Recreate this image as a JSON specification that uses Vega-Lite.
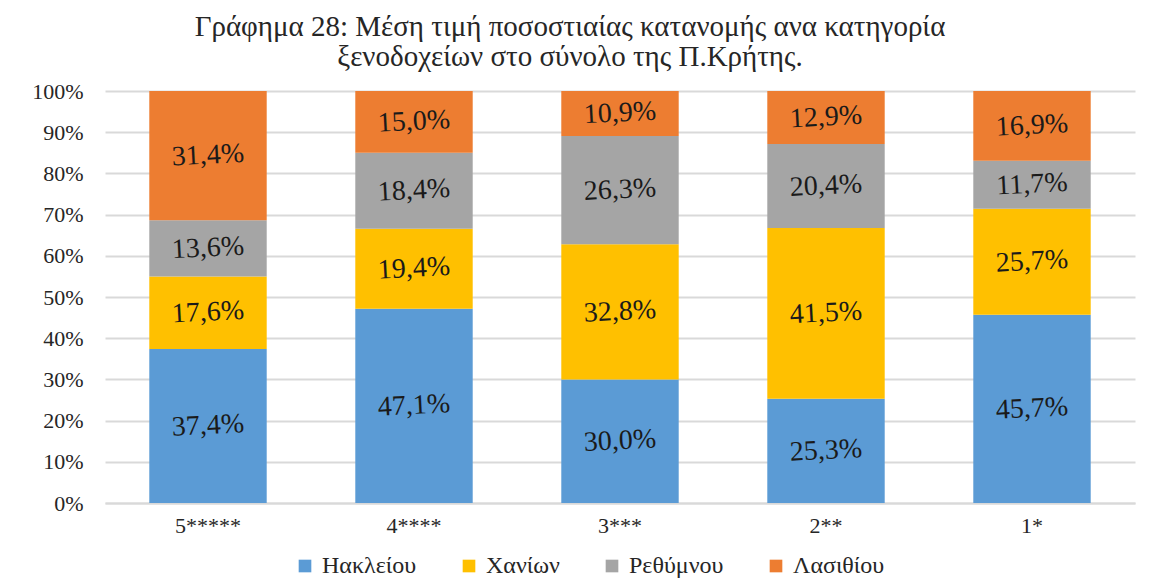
{
  "$schema": "https://vega.github.io/schema/vega-lite/v6.json",
  "width": 1030,
  "height": 412,
  "autosize": {"type": "none"},
  "padding": {"left": 105, "top": 91, "right": 24, "bottom": 85},
  "background": "white",
  "config": {"view": {"stroke": null}, "font": "Liberation Serif"},
  "title": {
    "text": ["Γράφημα 28: Μέση  τιμή ποσοστιαίας κατανομής ανα κατηγορία", "ξενοδοχείων στο σύνολο της Π.Κρήτης."],
    "font": "Liberation Serif",
    "fontSize": 29,
    "fontWeight": "normal",
    "color": "#262626",
    "lineHeight": 30,
    "anchor": "middle",
    "dx": -50,
    "offset": 8
  },
  "data": {
    "values": [
      {"cat": "5*****", "region": "Ηακλείου", "o": 1, "value": 37.4, "label": "37,4%"},
      {"cat": "5*****", "region": "Χανίων", "o": 2, "value": 17.6, "label": "17,6%"},
      {"cat": "5*****", "region": "Ρεθύμνου", "o": 3, "value": 13.6, "label": "13,6%"},
      {"cat": "5*****", "region": "Λασιθίου", "o": 4, "value": 31.4, "label": "31,4%"},
      {"cat": "4****", "region": "Ηακλείου", "o": 1, "value": 47.1, "label": "47,1%"},
      {"cat": "4****", "region": "Χανίων", "o": 2, "value": 19.4, "label": "19,4%"},
      {"cat": "4****", "region": "Ρεθύμνου", "o": 3, "value": 18.4, "label": "18,4%"},
      {"cat": "4****", "region": "Λασιθίου", "o": 4, "value": 15.0, "label": "15,0%"},
      {"cat": "3***", "region": "Ηακλείου", "o": 1, "value": 30.0, "label": "30,0%"},
      {"cat": "3***", "region": "Χανίων", "o": 2, "value": 32.8, "label": "32,8%"},
      {"cat": "3***", "region": "Ρεθύμνου", "o": 3, "value": 26.3, "label": "26,3%"},
      {"cat": "3***", "region": "Λασιθίου", "o": 4, "value": 10.9, "label": "10,9%"},
      {"cat": "2**", "region": "Ηακλείου", "o": 1, "value": 25.3, "label": "25,3%"},
      {"cat": "2**", "region": "Χανίων", "o": 2, "value": 41.5, "label": "41,5%"},
      {"cat": "2**", "region": "Ρεθύμνου", "o": 3, "value": 20.4, "label": "20,4%"},
      {"cat": "2**", "region": "Λασιθίου", "o": 4, "value": 12.9, "label": "12,9%"},
      {"cat": "1*", "region": "Ηακλείου", "o": 1, "value": 45.7, "label": "45,7%"},
      {"cat": "1*", "region": "Χανίων", "o": 2, "value": 25.7, "label": "25,7%"},
      {"cat": "1*", "region": "Ρεθύμνου", "o": 3, "value": 11.7, "label": "11,7%"},
      {"cat": "1*", "region": "Λασιθίου", "o": 4, "value": 16.9, "label": "16,9%"}
    ]
  },
  "encoding": {
    "x": {
      "field": "cat",
      "type": "nominal",
      "sort": ["5*****", "4****", "3***", "2**", "1*"],
      "scale": {"paddingInner": 0.43, "paddingOuter": 0.215},
      "axis": {
        "title": null,
        "labelAngle": 0,
        "labelFont": "Liberation Serif",
        "labelFontSize": 22,
        "labelColor": "#262626",
        "labelPadding": 12,
        "domain": true,
        "domainColor": "#d9d9d9",
        "domainWidth": 2,
        "ticks": false,
        "grid": false
      }
    },
    "y": {
      "field": "value",
      "type": "quantitative",
      "stack": "normalize",
      "axis": {
        "title": null,
        "format": ".0%",
        "values": [0, 0.1, 0.2, 0.3, 0.4, 0.5, 0.6, 0.7, 0.8, 0.9, 1],
        "labelOverlap": false,
        "labelFont": "Liberation Serif",
        "labelFontSize": 22,
        "labelColor": "#262626",
        "labelPadding": 22,
        "domain": false,
        "ticks": false,
        "grid": true,
        "gridColor": "#d9d9d9",
        "gridWidth": 2
      }
    },
    "order": {"field": "o", "type": "quantitative"}
  },
  "layer": [
    {
      "mark": {"type": "bar"},
      "encoding": {
        "color": {
          "field": "region",
          "type": "nominal",
          "scale": {
            "domain": ["Ηακλείου", "Χανίων", "Ρεθύμνου", "Λασιθίου"],
            "range": ["#5B9BD5", "#FFC000", "#A5A5A5", "#ED7D31"]
          },
          "legend": {
            "title": null,
            "orient": "none",
            "legendX": 188,
            "legendY": 463,
            "direction": "horizontal",
            "symbolType": "square",
            "symbolSize": 160,
            "symbolStrokeWidth": 0,
            "labelFont": "Liberation Serif",
            "labelFontSize": 24,
            "labelColor": "#262626",
            "columnPadding": 40,
            "labelOffset": 5
          }
        }
      }
    },
    {
      "mark": {
        "type": "text",
        "font": "Liberation Serif",
        "fontSize": 28,
        "color": "#1a1a1a",
        "angle": -3
      },
      "encoding": {
        "y": {
          "field": "value",
          "type": "quantitative",
          "stack": "normalize",
          "bandPosition": 0.5
        },
        "text": {"field": "label", "type": "nominal"}
      }
    }
  ]
}
